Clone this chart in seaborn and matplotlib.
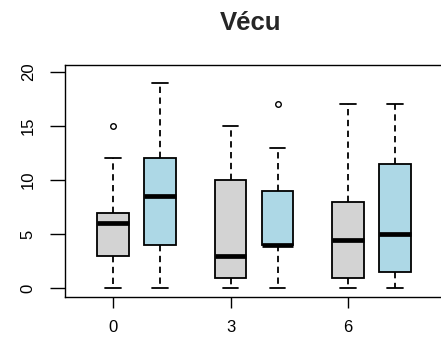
import numpy as np
import pandas as pd
import matplotlib
matplotlib.use("Agg")
import matplotlib.pyplot as plt
import seaborn as sns

# ---- data ----
temps_labels = ["0", "3", "6"]
groupes = ["A", "B"]
# raw values chosen so the box summaries match the picture
a_t0 = [0, 2, 3, 5, 6, 6, 7, 12, 15]
b_t0 = [0, 2, 4, 6, 8.5, 10, 12, 15, 19]
a_t3 = [0, 1, 1, 2, 3, 6, 10, 12, 15]
b_t3 = [0, 4, 4, 4, 4, 6, 9, 13, 17]
a_t6 = [0, 1, 1, 3, 4.5, 6, 8, 12, 17]
b_t6 = [0, 1, 1.5, 3, 5, 8, 11.5, 14, 17]
y_ticks = [0, 5, 10, 15, 20]
title = "Vécu"

series = {("0", "A"): a_t0, ("0", "B"): b_t0,
          ("3", "A"): a_t3, ("3", "B"): b_t3,
          ("6", "A"): a_t6, ("6", "B"): b_t6}
rows = []
for (t, g), vals in series.items():
    for v in vals:
        rows.append({"temps": t, "groupe": g, "valeur": v})
df = pd.DataFrame(rows)

sns.set_style("white")
plt.rcParams["font.family"] = ["Liberation Sans", "DejaVu Sans"]

fig = plt.figure(figsize=(4.41, 3.38), dpi=100)
ax = fig.add_axes([65 / 441, 40.7 / 338, (445 - 65) / 441, (297.3 - 65) / 338])

sns.boxplot(data=df, x="temps", y="valeur", hue="groupe",
            order=temps_labels, hue_order=groupes,
            palette={"A": "#D3D3D3", "B": "#ADD8E6"}, saturation=1,
            width=0.8, gap=0.34, linecolor="black", linewidth=1.3,
            whis=1.5, legend=False, ax=ax,
            medianprops={"linewidth": 3.4, "color": "black", "solid_capstyle": "butt"},
            whiskerprops={"linestyle": (0, (3.5, 2.5)), "linewidth": 1.3},
            capprops={"linewidth": 1.3},
            flierprops={"marker": "o", "markersize": 4, "markerfacecolor": "none",
                        "markeredgecolor": "black", "markeredgewidth": 1.0})

ax.set_xlim(-0.6085, 2.6255)
ax.set_ylim(-0.82, 20.62)
ax.set_xticks(np.arange(len(temps_labels)) - 0.2)
ax.set_xticklabels(temps_labels)
ax.set_yticks(y_ticks)
ax.set_yticklabels([str(v) for v in y_ticks])
for lab in ax.get_yticklabels():
    lab.set_rotation(90)
    lab.set_va("center")
ax.set_xlabel("")
ax.set_ylabel("")
ax.tick_params(axis="y", length=10.5, width=1.0, pad=10.5, labelsize=12, colors="black", direction="out", left=True)
ax.tick_params(axis="x", length=8, width=1.0, pad=8, labelsize=12, colors="black", direction="out", bottom=True)
for side in ["left", "top", "bottom", "right"]:
    ax.spines[side].set_color("black")
    ax.spines[side].set_linewidth(1.0)

fig.text(250.5 / 441, 1 - 30 / 338, title, ha="center", va="baseline",
         fontsize=18.5, fontweight="bold")

fig.savefig("out.png", dpi=100)
